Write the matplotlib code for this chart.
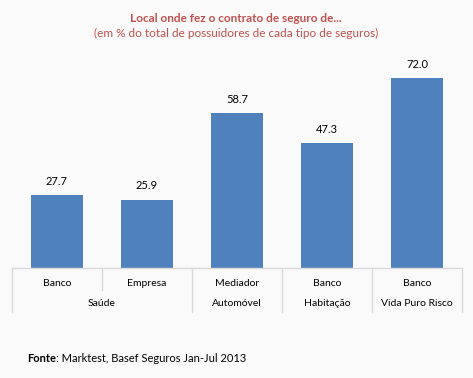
import matplotlib
matplotlib.use("Agg")
import matplotlib.pyplot as plt
from matplotlib.lines import Line2D

plt.rcParams['font.family'] = ['Lato', 'DejaVu Sans']

categories = ["Banco", "Empresa", "Mediador", "Banco", "Banco"]
groups = ["Saúde", "Automóvel", "Habitação", "Vida Puro Risco"]
group_sizes = [2, 1, 1, 1]
values = [27.7, 25.9, 58.7, 47.3, 72.0]

bg = "#FAFAFA"
fig = plt.figure(figsize=(4.73, 3.78), dpi=100, facecolor=bg)
ax = fig.add_axes([12/473, 1-268/378, 450/473, (268-57)/378])
ax.set_facecolor(bg)

x = list(range(len(values)))
bars = ax.bar(x, values, width=0.57, color="#4F81BD")
ax.set_xlim(-0.5, len(values)-0.5)
ax.set_ylim(0, 80)
for b, v in zip(bars, values):
    ax.annotate(f"{v:.1f}", (b.get_x()+b.get_width()/2, v), xytext=(0, 6),
                textcoords="offset points", ha="center", va="bottom", fontsize=8, color="#000000")
for s in ax.spines.values():
    s.set_visible(False)
ax.set_xticks([]); ax.set_yticks([])

gc = "#D9D9D9"
def yfig(py):
    return 1 - py/378
fig.add_artist(Line2D([12/473, 462/473], [yfig(268)]*2, color=gc, lw=1))
bounds = [-0.5]
for gs in group_sizes:
    bounds.append(bounds[-1] + gs)
xpx = lambda xv: 12 + (xv + 0.5) * 90
for bx in bounds:
    fig.add_artist(Line2D([xpx(bx)/473]*2, [yfig(268), yfig(312)], color=gc, lw=1))
start = -0.5
for gs in group_sizes:
    for k in range(1, gs):
        bx = start + k
        fig.add_artist(Line2D([xpx(bx)/473]*2, [yfig(268), yfig(290)], color=gc, lw=1))
    start += gs
for i, c in enumerate(categories):
    fig.text(xpx(i)/473, yfig(283), c, ha="center", va="center", fontsize=7.5, color="#000000")
start = -0.5
for g, gs in zip(groups, group_sizes):
    cx = start + gs/2
    fig.text(xpx(cx)/473, yfig(303), g, ha="center", va="center", fontsize=7.5, color="#000000")
    start += gs

fig.text(236/473, yfig(18), "Local onde fez o contrato de seguro de...", ha="center", va="center",
         fontsize=8.5, fontweight="bold", color="#C0504D")
fig.text(236/473, yfig(33), "(em % do total de possuidores de cada tipo de seguros)", ha="center",
         va="center", fontsize=8.5, color="#C0504D")
t1 = fig.text(27/473, yfig(358), "Fonte", ha="left", va="center", fontsize=8,
              fontweight="bold", color="#000000")
fig.canvas.draw()
bb = t1.get_window_extent()
fig.text(bb.x1/473, yfig(358), ": Marktest, Basef Seguros Jan-Jul 2013", ha="left", va="center",
         fontsize=8, color="#000000")

fig.savefig("out.png", dpi=100, facecolor=bg)
